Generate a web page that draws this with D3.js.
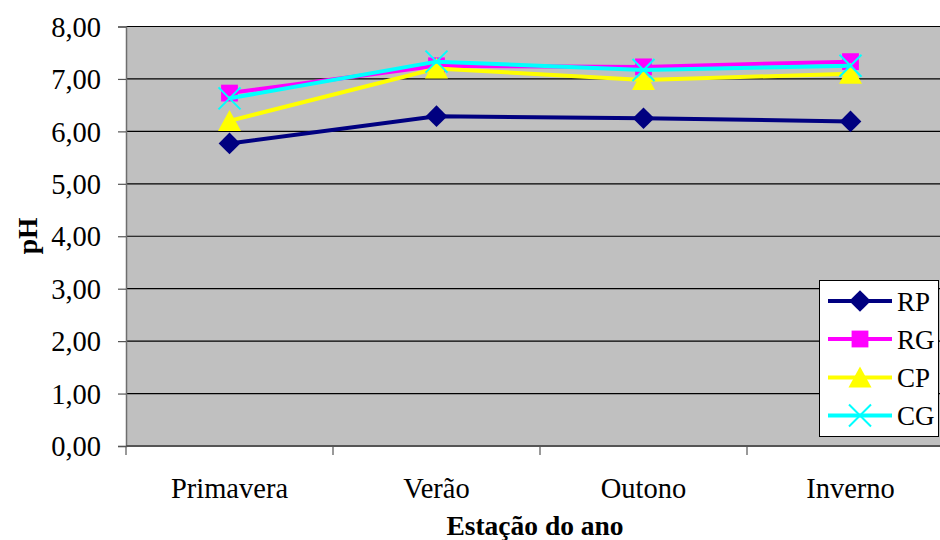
<!DOCTYPE html>
<html>
<head>
<meta charset="utf-8">
<script src="https://cdn.jsdelivr.net/npm/d3@7"></script>
<style>
  html, body { margin: 0; padding: 0; background: #fff; }
  svg text { font-family: "Liberation Serif", "Times New Roman", "DejaVu Serif", serif !important; }
</style>
</head>
<body>
<svg id="chart" width="940" height="540"></svg>
<script>
// Seasons on the category axis
const categories = ["Primavera", "Verão", "Outono", "Inverno"];
// pH per season for each sampling site
const seriesNames = ["RP", "RG", "CP", "CG"];
const rpValues = [5.77, 6.29, 6.25, 6.19];
const rgValues = [6.73, 7.25, 7.23, 7.33];
const cpValues = [6.20, 7.20, 6.98, 7.10];
const cgValues = [6.63, 7.33, 7.17, 7.25];
const yTicks = [0, 1, 2, 3, 4, 5, 6, 7, 8];

const series = [
  { name: seriesNames[0], values: rpValues, color: "#000080", symbol: "diamond" },
  { name: seriesNames[1], values: rgValues, color: "#FF00FF", symbol: "square" },
  { name: seriesNames[2], values: cpValues, color: "#FFFF00", symbol: "triangle" },
  { name: seriesNames[3], values: cgValues, color: "#00FFFF", symbol: "cross" }
];

const svg = d3.select("#chart");
const plot = { left: 126, top: 26.5, right: 954, bottom: 446 };

const x = d3.scaleBand().domain(categories).range([plot.left, plot.right]).paddingInner(0).paddingOuter(0);
const y = d3.scaleLinear().domain([0, 8]).range([plot.bottom, plot.top]);
const fmt = v => d3.format(".2f")(v).replace(".", ",");

// Plot background
svg.append("rect")
  .attr("x", plot.left).attr("y", plot.top)
  .attr("width", plot.right - plot.left).attr("height", plot.bottom - plot.top)
  .attr("fill", "#C0C0C0");

// Horizontal gridlines
svg.append("g").selectAll("line")
  .data(yTicks.filter(t => t > 0))
  .join("line")
  .attr("x1", plot.left).attr("x2", plot.right)
  .attr("y1", d => y(d)).attr("y2", d => y(d))
  .attr("stroke", "#000").attr("stroke-width", 1.2);

// Y axis
const yAxis = svg.append("g")
  .attr("transform", `translate(${plot.left},0)`)
  .call(d3.axisLeft(y).tickValues(yTicks).tickFormat(fmt).tickSize(8).tickPadding(17));
yAxis.attr("font-family", null);
yAxis.select(".domain").attr("stroke", "#6e6e6e").attr("stroke-width", 1.5);
yAxis.selectAll(".tick line").attr("stroke", "#555").attr("stroke-width", 1.2);
yAxis.selectAll(".tick text")
  .attr("font-size", 28.5).attr("fill", "#000").attr("dy", "0.34em");

// X axis: ticks sit on the category boundaries
const bounds = categories.map(c => x(c)).concat([plot.right]);
const xAxisG = svg.append("g");
xAxisG.append("line")
  .attr("x1", plot.left).attr("x2", plot.right)
  .attr("y1", plot.bottom).attr("y2", plot.bottom)
  .attr("stroke", "#555").attr("stroke-width", 2.2);
xAxisG.selectAll("line.tk")
  .data(bounds)
  .join("line").attr("class", "tk")
  .attr("x1", d => d).attr("x2", d => d)
  .attr("y1", plot.bottom).attr("y2", plot.bottom + 9)
  .attr("stroke", "#555").attr("stroke-width", 1.2);
xAxisG.selectAll("text")
  .data(categories)
  .join("text")
  .attr("x", d => x(d) + x.bandwidth() / 2)
  .attr("y", 498)
  .attr("text-anchor", "middle")
  .attr("font-size", 28.5)
  .text(d => d);

// Axis titles
svg.append("text")
  .attr("transform", "translate(37,236) rotate(-90)")
  .attr("text-anchor", "middle")
  .attr("font-size", 27.5).attr("font-weight", "bold")
  .text("pH");
svg.append("text")
  .attr("x", 535).attr("y", 535)
  .attr("text-anchor", "middle")
  .attr("font-size", 27.5).attr("font-weight", "bold")
  .text("Estação do ano");

// Marker shapes
function markerPath(kind) {
  if (kind === "diamond") return d3.symbol(d3.symbolDiamond2, 300)();
  if (kind === "square") return d3.symbol(d3.symbolSquare2, 360)();
  if (kind === "triangle") return "M0,-11 L11.5,10 L-11.5,10 Z";
  return "M-11,-11 L11,11 M-11,11 L11,-11";
}
function drawMarker(g, s) {
  const p = g.append("path").attr("d", markerPath(s.symbol));
  if (s.symbol === "cross") {
    p.attr("fill", "none").attr("stroke", s.color).attr("stroke-width", 2);
  } else {
    p.attr("fill", s.color).attr("stroke", "none");
  }
  return p;
}

const line = d3.line()
  .x((d, i) => x(categories[i]) + x.bandwidth() / 2)
  .y(d => y(d));

series.forEach(s => {
  const g = svg.append("g");
  g.append("path")
    .attr("d", line(s.values))
    .attr("fill", "none")
    .attr("stroke", s.color)
    .attr("stroke-width", 4);
  s.values.forEach((v, i) => {
    const mg = g.append("g")
      .attr("transform", `translate(${x(categories[i]) + x.bandwidth() / 2},${y(v)})`);
    drawMarker(mg, s);
  });
});

// Legend
const legend = svg.append("g");
legend.append("rect")
  .attr("x", 819.5).attr("y", 280.5)
  .attr("width", 119).attr("height", 156)
  .attr("fill", "#fff").attr("stroke", "#000").attr("stroke-width", 1);
const legY = [301, 339, 377.5, 415.5];
series.forEach((s, i) => {
  const g = legend.append("g").attr("transform", `translate(0,${legY[i]})`);
  g.append("line")
    .attr("x1", 828).attr("x2", 892).attr("y1", 0).attr("y2", 0)
    .attr("stroke", s.color).attr("stroke-width", 4);
  const mg = g.append("g").attr("transform", "translate(860,0)");
  drawMarker(mg, s);
  g.append("text")
    .attr("x", 897).attr("y", 9.5)
    .attr("font-size", 27)
    .text(s.name);
});
</script>
</body>
</html>
